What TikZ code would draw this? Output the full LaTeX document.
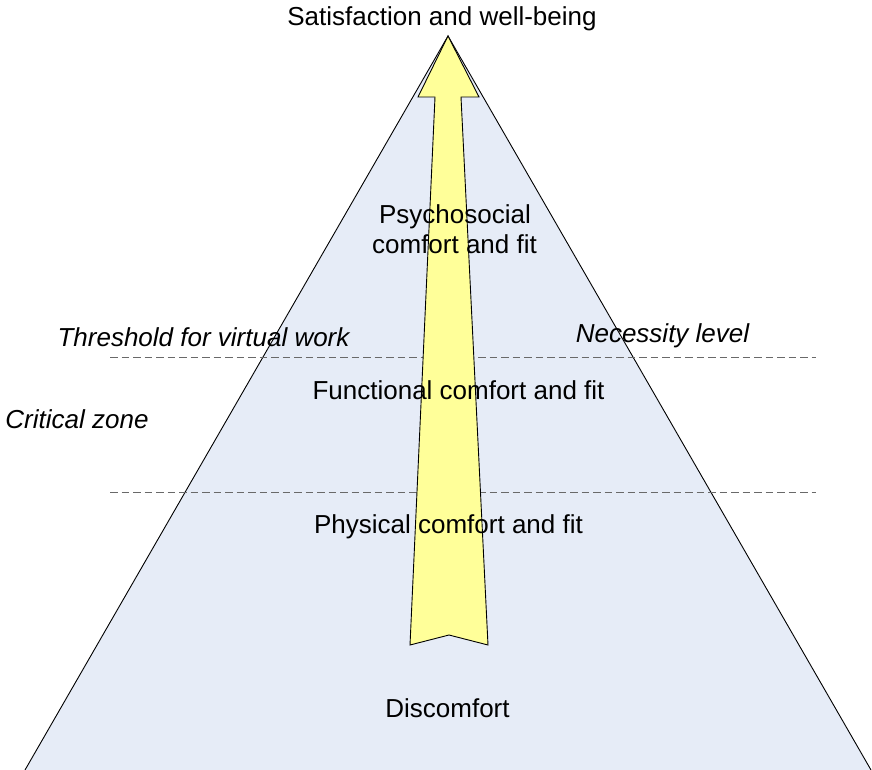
\documentclass[tikz,border=0pt]{standalone}
\usepackage{fontspec}
\setmainfont{Liberation Sans}
\definecolor{zonefill}{RGB}{230,236,247}
\definecolor{arrowfill}{RGB}{255,255,153}
\definecolor{dashgray}{RGB}{105,105,105}
\begin{document}
\begin{tikzpicture}[x=1pt,y=-1pt,
  lbl/.style={font=\fontsize{26}{30}\selectfont, inner sep=0pt, anchor=base},
  ital/.style={lbl, font=\fontsize{26}{30}\selectfont\itshape},
  levelline/.style={draw=dashgray, line width=1pt, dash pattern=on 7.5pt off 4pt},
  riser/.style={draw=black, line width=0.9pt, fill=arrowfill}]
\useasboundingbox (0,0) rectangle (872,770);

% pyramid of comfort levels
\coordinate (apex) at (448,36);
\coordinate (bl) at (25,770);
\coordinate (br) at (871,770);
\fill[zonefill] (apex) -- (bl) -- (br) -- cycle;
\draw[black, line width=0.9pt] (bl) -- (apex) -- (br);

% level boundaries
\coordinate (t1) at (110,357);
\coordinate (t2) at (816,357);
\coordinate (n1) at (110,492);
\coordinate (n2) at (816,492);
\draw[levelline] (t1) -- (t2);
\draw[levelline] (n1) -- (n2);

% upward arrow
\draw[riser, line join=miter] (apex) -- (479,97) -- (461,97) -- (488,645)
  -- (449,635) -- (410,645) -- (435,97) -- (418,97) -- cycle;

% labels
\node[lbl] (top) at (442,26) {Satisfaction and well-being};
\node[lbl] (psy1) at (455,223) {Psychosocial};
\node[lbl] (psy2) at (454.5,253) {comfort and fit};
\node[ital] (thr) at (203.5,346) {Threshold for virtual work};
\node[ital] (nec) at (662.5,342) {Necessity level};
\node[ital] (crit) at (77,428) {Critical zone};
\node[lbl] (fun) at (458.5,399) {Functional comfort and fit};
\node[lbl] (phy) at (448.5,533) {Physical comfort and fit};
\node[lbl] (dis) at (447.5,717) {Discomfort};
\end{tikzpicture}
\end{document}
